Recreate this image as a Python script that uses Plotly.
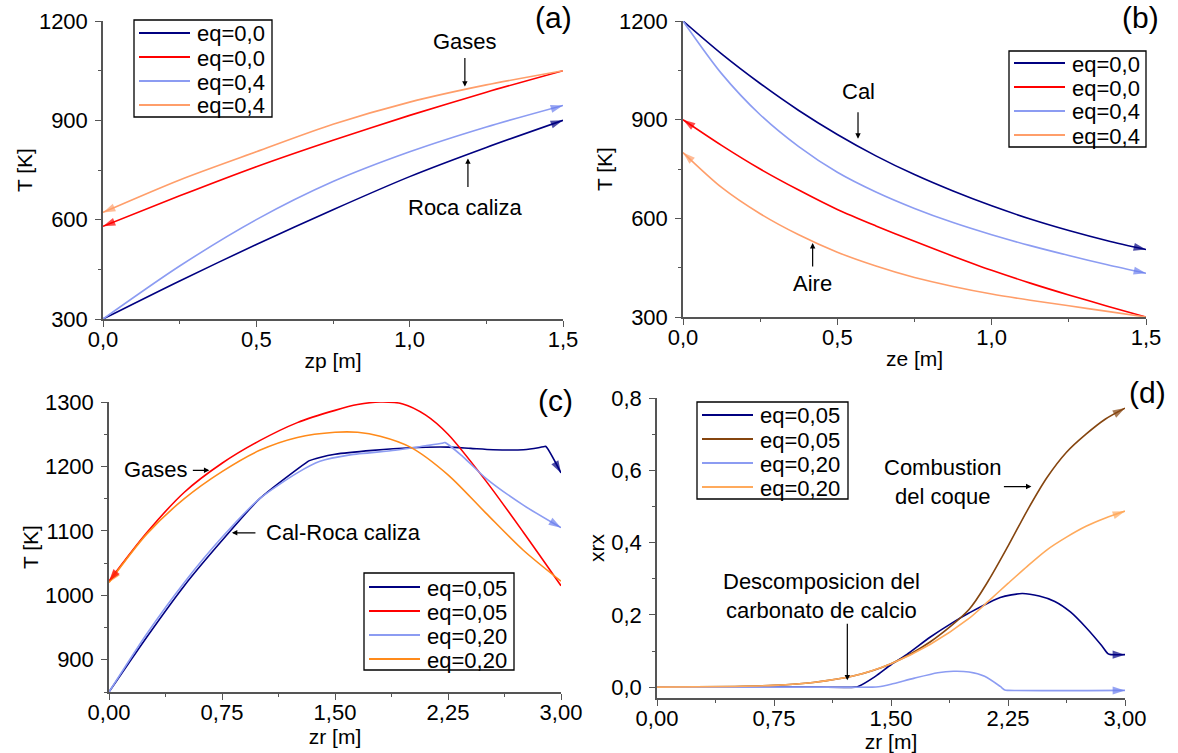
import plotly.graph_objects as go

W, H = 1178, 753

# ---------------- (a) precalentamiento: roca caliza / gases
zp = [0.0, 0.25, 0.5, 0.75, 1.0, 1.25, 1.5]
a_roca_eq00 = [300, 415, 525, 630, 730, 818, 900]
a_gas_eq00 = [580, 672, 760, 840, 915, 985, 1050]
a_roca_eq04 = [300, 460, 600, 715, 805, 880, 945]
a_gas_eq04 = [622, 720, 805, 888, 955, 1007, 1050]

# ---------------- (b) enfriamiento: cal / aire
ze = [0.0, 0.125, 0.25, 0.375, 0.5, 0.625, 0.75, 0.875, 1.0, 1.125, 1.25, 1.375, 1.5]
b_cal_eq00 = [1200, 1100, 1010, 928, 855, 790, 733, 683, 638, 598, 563, 532, 505]
b_aire_eq00 = [900, 822, 750, 686, 627, 577, 530, 485, 442, 403, 367, 333, 300]
b_cal_eq04 = [1200, 1040, 915, 818, 740, 680, 630, 587, 550, 517, 487, 459, 433]
b_aire_eq04 = [800, 694, 614, 550, 497, 455, 420, 393, 370, 351, 334, 317, 300]

# ---------------- (c) reaccion: temperaturas
c_sol_x_005 = [0, 0.25, 0.5, 0.75, 1.0, 1.25, 1.31, 1.33, 1.4, 1.5, 1.75, 2.0, 2.25, 2.4, 2.55, 2.75, 2.85, 2.89, 2.9, 3.0]
c_sol_005 = [850, 935, 1015, 1085, 1150, 1196, 1206, 1209, 1214, 1219, 1225, 1229, 1230, 1228, 1226, 1226, 1229, 1231, 1231, 1190]
c_gas_x_005 = [0, 0.25, 0.5, 0.75, 1.0, 1.25, 1.5, 1.65, 1.8, 1.95, 2.1, 2.25, 2.5, 2.75, 3.0]
c_gas_005 = [1022, 1097, 1160, 1205, 1240, 1268, 1287, 1296, 1300, 1297, 1280, 1250, 1178, 1098, 1015]
c_sol_x_020 = [0, 0.25, 0.5, 0.75, 1.0, 1.25, 1.4, 1.6, 1.9, 2.1, 2.21, 2.23, 2.35, 2.5, 2.75, 3.0]
c_sol_020 = [850, 940, 1020, 1090, 1150, 1190, 1208, 1218, 1225, 1232, 1236, 1237, 1215, 1182, 1140, 1105]
c_gas_x_020 = [0, 0.25, 0.5, 0.75, 1.0, 1.25, 1.5, 1.65, 1.8, 2.0, 2.25, 2.5, 2.75, 3.0]
c_gas_020 = [1020, 1095, 1150, 1192, 1225, 1245, 1253, 1253, 1247, 1230, 1187, 1128, 1070, 1022]

# ---------------- (d) reaccion: conversiones
d_x = [0, 0.5, 0.75, 1.0, 1.25, 1.5, 1.75, 2.0, 2.125, 2.25, 2.375, 2.5, 2.625, 2.75, 2.875, 3.0]
d_coque_005 = [0, 0.002, 0.005, 0.013, 0.03, 0.065, 0.125, 0.215, 0.295, 0.39, 0.49, 0.58, 0.65, 0.70, 0.742, 0.772]
d_coque_020 = [0, 0.002, 0.005, 0.013, 0.03, 0.065, 0.118, 0.19, 0.238, 0.287, 0.335, 0.38, 0.415, 0.445, 0.468, 0.487]
d_carb_x_005 = [0, 0.5, 1.0, 1.27, 1.29, 1.4, 1.5, 1.6, 1.75, 1.9, 2.0, 2.2, 2.34, 2.45, 2.55, 2.65, 2.75, 2.85, 2.89, 2.91, 3.0]
d_carb_005 = [0, 0, 0, 0, 0.002, 0.03, 0.062, 0.09, 0.138, 0.18, 0.205, 0.248, 0.259, 0.252, 0.237, 0.208, 0.165, 0.115, 0.093, 0.09, 0.09]
d_carb_x_020 = [0, 1.0, 1.38, 1.42, 1.5, 1.65, 1.8, 1.9, 2.0, 2.1, 2.2, 2.23, 2.25, 3.0]
d_carb_020 = [0, 0, 0, 0.001, 0.008, 0.025, 0.04, 0.044, 0.042, 0.03, 0.002, -0.008, -0.009, -0.009]

# ---------------- tick labels
ticks_a_x = [0.0, 0.5, 1.0, 1.5]
ticks_a_x_txt = ["0,0", "0,5", "1,0", "1,5"]
ticks_ab_y = [300, 600, 900, 1200]
ticks_ab_y_txt = ["300", "600", "900", "1200"]
ticks_cd_x = [0.0, 0.75, 1.5, 2.25, 3.0]
ticks_cd_x_txt = ["0,00", "0,75", "1,50", "2,25", "3,00"]
ticks_c_y = [900, 1000, 1100, 1200, 1300]
ticks_c_y_txt = ["900", "1000", "1100", "1200", "1300"]
ticks_d_y = [0.0, 0.2, 0.4, 0.6, 0.8]
ticks_d_y_txt = ["0,0", "0,2", "0,4", "0,6", "0,8"]

NAVY = "#000080"
RED = "#FF0000"
LBLUE = "#8C9CF2"
LBLUE_HEAD = "#6B7FEE"
SALMON = "#FF9E6A"
ORANGE = "#FF8A1A"
LORANGE = "#FFAA5C"
BROWN = "#85450F"
AX = "#555555"
FONT = "Liberation Sans, Arial, sans-serif"

# series per panel: (x, y, colour, arrow colour, legend name, arrow at end?, smoothing)
panel_a = [
    (zp, a_roca_eq00, NAVY, NAVY, "eq=0,0", True, 0.8),
    (zp, a_gas_eq00, RED, RED, "eq=0,0", False, 0.8),
    (zp, a_roca_eq04, LBLUE, LBLUE_HEAD, "eq=0,4", True, 0.8),
    (zp, a_gas_eq04, SALMON, SALMON, "eq=0,4", False, 0.8),
]
panel_b = [
    (ze, b_cal_eq00, NAVY, NAVY, "eq=0,0", True, 0.8),
    (ze, b_aire_eq00, RED, RED, "eq=0,0", False, 0.8),
    (ze, b_cal_eq04, LBLUE, LBLUE_HEAD, "eq=0,4", True, 0.8),
    (ze, b_aire_eq04, SALMON, SALMON, "eq=0,4", False, 0.8),
]
panel_c = [
    (c_sol_x_005, c_sol_005, NAVY, NAVY, "eq=0,05", True, 0.7),
    (c_gas_x_005, c_gas_005, RED, RED, "eq=0,05", False, 0.8),
    (c_sol_x_020, c_sol_020, LBLUE, LBLUE_HEAD, "eq=0,20", True, 0.7),
    (c_gas_x_020, c_gas_020, ORANGE, ORANGE, "eq=0,20", False, 0.8),
]
panel_d = [
    (d_carb_x_005, d_carb_005, NAVY, NAVY, "eq=0,05", True, 0.7),
    (d_x, d_coque_005, BROWN, BROWN, "eq=0,05", True, 0.8),
    (d_carb_x_020, d_carb_020, LBLUE, LBLUE_HEAD, "eq=0,20", True, 0.7),
    (d_x, d_coque_020, LORANGE, LORANGE, "eq=0,20", True, 0.8),
]

fig = go.Figure()


def draw_panel(series, ax, head_order):
    for x, y, col, _, name, _, sm in series:
        fig.add_trace(go.Scatter(
            x=x, y=y, mode="lines", name=name, showlegend=False,
            line=dict(color=col, width=1.6, shape="spline", smoothing=sm),
            xaxis="x" + ax, yaxis="y" + ax, cliponaxis=False, hoverinfo="skip"))
    # arrowheads on top of every line, oriented by the last segment
    for i in head_order:
        x, y, _, hcol, _, at_end, _ = series[i]
        if at_end:
            xs, ys = list(x[-2:]), list(y[-2:])
        else:
            xs, ys = [x[1], x[0]], [y[1], y[0]]
        fig.add_trace(go.Scatter(
            x=xs, y=ys, mode="markers", showlegend=False, hoverinfo="skip",
            marker=dict(symbol="arrow", size=[0, 13], angleref="previous",
                        color=hcol, line=dict(width=0)),
            xaxis="x" + ax, yaxis="y" + ax, cliponaxis=False))


draw_panel(panel_a, "", [0, 1, 2, 3])
draw_panel(panel_b, "2", [0, 1, 2, 3])
draw_panel(panel_c, "3", [0, 2, 3, 1])
draw_panel(panel_d, "4", [0, 1, 2, 3])


def px_x(p):
    return p / W


def px_y(p):
    return 1 - p / H


def axis(domain, rng, vals, txt, minor_dtick, minor0, title, anchor, is_y):
    return dict(
        domain=domain, range=rng, anchor=anchor, automargin=False,
        tickmode="array", tickvals=vals, ticktext=txt,
        ticks="outside", ticklen=6, tickwidth=1.3, tickcolor=AX,
        showline=True, linecolor=AX, linewidth=1.5,
        showgrid=False, zeroline=False,
        minor=dict(ticks="outside", ticklen=3, tickwidth=1.2, tickcolor=AX,
                   tickmode="linear", tick0=minor0, dtick=minor_dtick, showgrid=False),
        tickfont=dict(family=FONT, size=22, color="black"),
        title=dict(text=title, font=dict(family=FONT, size=21, color="black"),
                   standoff=1 if is_y else 2),
        ticklabelstandoff=3 if is_y else -6,
    )


fig.update_layout(
    width=W, height=H, margin=dict(l=0, r=0, t=0, b=0),
    paper_bgcolor="white", plot_bgcolor="white", showlegend=False,
    font=dict(family=FONT, color="black"),
    xaxis=axis([px_x(103), px_x(563)], [0, 1.5], ticks_a_x, ticks_a_x_txt, 0.25, 0, "zp [m]", "y", False),
    yaxis=axis([px_y(319), px_y(21)], [300, 1200], ticks_ab_y, ticks_ab_y_txt, 150, 300, "T [K]", "x", True),
    xaxis2=axis([px_x(683), px_x(1146)], [0, 1.5], ticks_a_x, ticks_a_x_txt, 0.25, 0, "ze [m]", "y2", False),
    yaxis2=axis([px_y(317), px_y(21)], [300, 1200], ticks_ab_y, ticks_ab_y_txt, 150, 300, "T [K]", "x2", True),
    xaxis3=axis([px_x(109), px_x(561)], [0, 3.0], ticks_cd_x, ticks_cd_x_txt, 0.375, 0, "zr [m]", "y3", False),
    yaxis3=axis([px_y(692), px_y(402)], [850, 1300], ticks_c_y, ticks_c_y_txt, 50, 850, "T [K]", "x3", True),
    xaxis4=axis([px_x(657), px_x(1125)], [0, 3.0], ticks_cd_x, ticks_cd_x_txt, 0.375, 0, "zr [m]", "y4", False),
    yaxis4=axis([px_y(698), px_y(398)], [-0.03, 0.8], ticks_d_y, ticks_d_y_txt, 0.1, 0, "xrx", "x4", True),
)

shapes = []
ann = []


def legend_box(series, x0, y0, x1, y1, rows):
    """Framed key: a short line sample and the series name on each row (pixel geometry)."""
    shapes.append(dict(type="rect", xref="paper", yref="paper",
                       x0=px_x(x0), x1=px_x(x1), y0=px_y(y1), y1=px_y(y0),
                       line=dict(color="black", width=1.3), fillcolor="rgba(0,0,0,0)"))
    for (_, _, col, _, name, _, _), ry in zip(series, rows):
        shapes.append(dict(type="line", xref="paper", yref="paper",
                           x0=px_x(x0 + 5), x1=px_x(x0 + 56), y0=px_y(ry), y1=px_y(ry),
                           line=dict(color=col, width=1.8)))
        ann.append(dict(xref="paper", yref="paper", x=px_x(x0 + 61), y=px_y(ry + 1),
                        text=name, showarrow=False, xanchor="left", yanchor="middle",
                        font=dict(family=FONT, size=22, color="black")))


legend_box(panel_a, 134, 20, 272, 117, [33, 57, 81, 105])
legend_box(panel_b, 1009, 51, 1146, 147, [63, 87, 111, 135])
legend_box(panel_c, 364, 573, 514, 670, [587, 611, 635, 659])
legend_box(panel_d, 697, 402, 848, 499, [415, 439, 463, 487])

TXT = dict(family=FONT, size=22, color="black")
ARW = dict(showarrow=True, arrowhead=2, arrowsize=0.9, arrowwidth=1.2, arrowcolor="black", text="")

# (a)
ann.append(dict(xref="x", yref="y", x=1.18, y=1137, text="Gases", showarrow=False, font=TXT))
ann.append(dict(xref="x", yref="y", x=1.18, y=1002, ax=0, ay=-30, **ARW))
ann.append(dict(xref="x", yref="y", x=1.18, y=638, text="Roca caliza", showarrow=False, font=TXT))
ann.append(dict(xref="x", yref="y", x=1.19, y=785, ax=0, ay=30, **ARW))
# (b)
ann.append(dict(xref="x2", yref="y2", x=0.567, y=985, text="Cal", showarrow=False, font=TXT))
ann.append(dict(xref="x2", yref="y2", x=0.567, y=842, ax=0, ay=-28, **ARW))
ann.append(dict(xref="x2", yref="y2", x=0.42, y=403, text="Aire", showarrow=False, font=TXT))
ann.append(dict(xref="x2", yref="y2", x=0.42, y=525, ax=0, ay=25, **ARW))
# (c)
ann.append(dict(xref="x3", yref="y3", x=0.31, y=1196, text="Gases", showarrow=False, font=TXT))
ann.append(dict(xref="x3", yref="y3", x=0.666, y=1194, ax=-18, ay=0, **ARW))
ann.append(dict(xref="x3", yref="y3", x=1.555, y=1097, text="Cal-Roca caliza", showarrow=False, font=TXT))
ann.append(dict(xref="x3", yref="y3", x=0.816, y=1097, ax=25, ay=0, **ARW))
# (d)
ann.append(dict(xref="x4", yref="y4", x=1.83, y=0.568, text="Combustion<br>del coque",
                showarrow=False, font=TXT, align="center"))
ann.append(dict(xref="x4", yref="y4", x=2.40, y=0.555, ax=-29, ay=0, **ARW))
ann.append(dict(xref="x4", yref="y4", x=1.056, y=0.253, text="Descomposicion del<br>carbonato de calcio",
                showarrow=False, font=TXT, align="center"))
ann.append(dict(xref="x4", yref="y4", x=1.22, y=0.019, ax=0, ay=-58, **ARW))

# panel labels
PL = dict(family=FONT, size=30, color="black")
for lab, xp, yp in [("(a)", 553, 18), ("(b)", 1140, 18), ("(c)", 555, 400), ("(d)", 1147, 392)]:
    ann.append(dict(xref="paper", yref="paper", x=px_x(xp), y=px_y(yp), text=lab,
                    showarrow=False, font=PL, xanchor="center", yanchor="middle"))

fig.update_layout(shapes=shapes, annotations=ann)

fig.write_html("out.html")
